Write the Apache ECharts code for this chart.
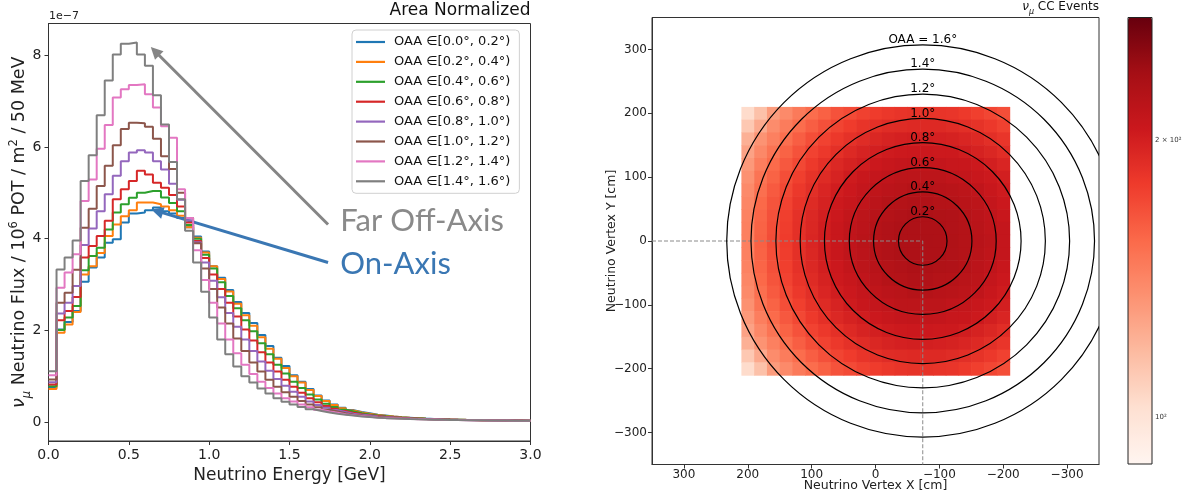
<!DOCTYPE html>
<html><head><meta charset="utf-8">
<script src="https://cdn.jsdelivr.net/npm/echarts@6/dist/echarts.min.js"></script>
<style>html,body{margin:0;padding:0;background:#fff}#c{width:1182px;height:493px}</style>
</head><body><div id="c"></div>
<script>
// ---------------- Left panel data: nu_mu flux (x1e-7) per 50 MeV bin, 0-3 GeV ----------------
const BIN_GEV = 0.05;
const oaaLabels = ['OAA \u2208[0.0°, 0.2°)','OAA \u2208[0.2°, 0.4°)','OAA \u2208[0.4°, 0.6°)','OAA \u2208[0.6°, 0.8°)',
                   'OAA \u2208[0.8°, 1.0°)','OAA \u2208[1.0°, 1.2°)','OAA \u2208[1.2°, 1.4°)','OAA \u2208[1.4°, 1.6°)'];
const oaaColors = ['#1f77b4','#ff7f0e','#2ca02c','#d62728','#9467bd','#8c564b','#e377c2','#7f7f7f'];
const flux00_02 = [0.76,2.02,2.18,2.42,3.06,3.37,3.59,3.91,3.99,4.35,4.55,4.57,4.62,4.68,4.60,4.55,4.45,4.25,4.05,3.72,3.40,3.15,2.88,2.62,2.38,2.16,1.90,1.66,1.40,1.22,1.02,0.88,0.72,0.58,0.47,0.38,0.31,0.26,0.22,0.19,0.16,0.14,0.12,0.105,0.095,0.085,0.075,0.068,0.062,0.056,0.052,0.048,0.045,0.042,0.040,0.038,0.036,0.034,0.032,0.030];
const flux02_04 = [0.72,1.95,2.13,2.40,3.22,3.40,3.69,4.06,4.31,4.49,4.62,4.79,4.79,4.75,4.70,4.62,4.50,4.25,4.02,3.70,3.40,3.12,2.85,2.58,2.33,2.10,1.85,1.60,1.38,1.18,1.00,0.86,0.70,0.57,0.46,0.37,0.30,0.25,0.21,0.18,0.155,0.135,0.118,0.104,0.093,0.083,0.074,0.067,0.061,0.056,0.051,0.047,0.044,0.041,0.039,0.037,0.035,0.033,0.031,0.030];
const flux04_06 = [0.78,2.01,2.28,2.53,3.31,3.62,3.80,4.20,4.57,4.75,4.89,5.00,5.04,5.04,4.90,4.78,4.60,4.30,4.00,3.65,3.35,3.05,2.75,2.48,2.22,1.98,1.72,1.48,1.25,1.06,0.88,0.74,0.60,0.49,0.40,0.33,0.27,0.23,0.19,0.165,0.145,0.127,0.112,0.100,0.090,0.080,0.072,0.065,0.059,0.054,0.050,0.046,0.043,0.040,0.038,0.036,0.034,0.032,0.031,0.030];
const flux06_08 = [0.82,2.22,2.42,2.73,3.59,3.84,4.06,4.39,4.86,5.08,5.26,5.48,5.40,5.22,5.11,4.95,4.70,4.35,3.95,3.58,3.22,2.90,2.60,2.30,2.02,1.78,1.52,1.30,1.10,0.92,0.77,0.64,0.52,0.43,0.35,0.29,0.24,0.20,0.17,0.15,0.13,0.115,0.102,0.092,0.083,0.075,0.068,0.062,0.057,0.052,0.048,0.045,0.042,0.040,0.038,0.036,0.034,0.032,0.031,0.030];
const flux08_10 = [0.87,2.37,2.60,2.97,3.86,4.22,4.60,4.97,5.37,5.69,5.88,5.93,5.88,5.69,5.51,5.20,4.85,4.40,3.92,3.48,3.08,2.72,2.38,2.08,1.80,1.55,1.32,1.12,0.94,0.79,0.66,0.55,0.45,0.37,0.31,0.26,0.22,0.18,0.16,0.14,0.12,0.108,0.097,0.087,0.079,0.072,0.066,0.060,0.055,0.051,0.047,0.044,0.041,0.039,0.037,0.035,0.033,0.032,0.030,0.029];
const flux10_12 = [0.93,2.60,2.82,3.32,4.24,4.65,5.15,5.59,6.04,6.39,6.53,6.52,6.44,6.18,5.80,5.52,5.00,4.45,3.90,3.35,2.90,2.50,2.15,1.82,1.55,1.30,1.10,0.92,0.77,0.65,0.55,0.46,0.38,0.32,0.27,0.23,0.19,0.16,0.14,0.12,0.11,0.098,0.088,0.080,0.073,0.066,0.061,0.056,0.052,0.048,0.045,0.042,0.040,0.038,0.036,0.034,0.032,0.031,0.030,0.029];
const flux12_14 = [1.02,2.93,3.26,3.66,4.82,5.29,5.96,6.48,7.08,7.26,7.35,7.37,7.15,6.86,6.45,6.20,5.08,4.45,3.75,3.10,2.60,2.15,1.80,1.50,1.25,1.05,0.88,0.74,0.62,0.52,0.45,0.38,0.32,0.27,0.23,0.20,0.17,0.15,0.13,0.115,0.10,0.090,0.082,0.075,0.069,0.063,0.058,0.054,0.050,0.046,0.043,0.041,0.039,0.037,0.035,0.033,0.032,0.030,0.029,0.028];
const flux14_16 = [1.11,3.33,3.59,3.96,5.26,5.82,6.69,7.45,8.02,8.25,8.28,8.02,7.77,7.13,6.49,5.67,4.86,4.17,3.48,2.84,2.28,1.80,1.48,1.21,1.00,0.86,0.73,0.62,0.52,0.44,0.38,0.33,0.28,0.24,0.21,0.18,0.16,0.14,0.12,0.11,0.095,0.085,0.077,0.070,0.064,0.059,0.055,0.051,0.048,0.045,0.042,0.040,0.038,0.036,0.034,0.032,0.031,0.030,0.029,0.028];
const fluxSeries = [flux00_02,flux02_04,flux04_06,flux06_08,flux08_10,flux10_12,flux12_14,flux14_16];
const fluxTicks = [0,2,4,6,8];
const energyTicksStep = 0.5;
// annotation arrows (data coords: [GeV, 1e-7 units])
const farArrow = [[1.74,4.31],[0.663,8.09]];
const onArrow  = [[1.74,3.48],[0.676,4.60]];
const farText = [1.816,4.38];
const onText  = [1.816,3.44];

// ---------------- Right panel data: vertex distribution ----------------
const xCenters = [200,180,160,140,120,100,80,60,40,20,0,-20,-40,-60,-80,-100,-120,-140,-160,-180,-200];
const yCenters = [200,180,160,140,120,100,80,60,40,20,0,-20,-40,-60,-80,-100,-120,-140,-160,-180,-200];
const CELL_CM = 20;
const heatCounts = [
 [104,115,131,139,147,154,160,167,171,176,179,182,184,185,185,184,183,180,177,173,169],
 [112,125,138,146,154,161,168,174,179,184,187,190,191,192,192,192,190,188,185,181,176],
 [122,135,144,153,161,169,175,181,186,190,194,197,199,200,200,199,198,195,192,188,183],
 [128,140,150,159,167,175,181,187,192,197,200,203,205,206,206,205,205,202,198,194,189],
 [132,145,155,164,172,180,187,193,198,202,206,209,211,212,212,211,209,208,205,200,195],
 [136,150,159,169,177,185,191,197,203,208,211,214,217,217,217,217,214,212,208,205,200],
 [139,153,163,172,181,188,195,202,206,211,215,218,220,223,223,221,220,217,214,208,203],
 [141,156,166,175,184,191,198,205,209,214,218,223,224,226,226,224,223,220,217,211,206],
 [143,158,168,177,186,193,200,206,212,217,221,224,226,229,229,227,226,223,218,214,208],
 [144,159,169,178,187,194,202,208,214,218,223,226,229,229,229,229,226,224,220,215,211],
 [144,160,170,179,187,195,202,208,214,220,223,226,229,229,230,229,227,224,221,217,211],
 [144,159,169,178,187,194,202,208,214,218,223,226,229,229,229,229,226,224,220,215,211],
 [143,158,168,177,186,193,200,206,212,217,221,224,226,229,229,227,226,223,218,214,208],
 [141,156,166,175,184,191,198,205,209,214,218,223,224,226,226,224,223,220,217,211,206],
 [139,153,163,172,181,188,195,202,206,211,215,218,220,223,223,221,220,217,214,208,203],
 [136,150,159,169,177,185,191,197,203,208,211,214,217,217,217,217,214,212,208,205,200],
 [132,145,155,164,172,180,187,193,198,202,206,209,211,212,212,211,209,208,205,200,195],
 [128,140,150,159,167,175,181,187,192,197,200,203,205,206,206,205,205,202,198,194,189],
 [122,135,144,153,161,169,175,181,186,190,194,197,199,200,200,199,198,195,192,188,183],
 [112,125,138,146,154,161,168,174,179,184,187,190,191,192,192,192,190,188,185,181,176],
 [104,115,131,139,147,154,160,167,171,176,179,182,184,185,185,184,183,180,177,173,169]
];
const beamCenter = [-74, 0];
const circleOAA = [0.2,0.4,0.6,0.8,1.0,1.2,1.4,1.6];
const circleRadiusCm = [38,77,115,154,192,230,269,307];
const circleLabels = ['0.2°','0.4°','0.6°','0.8°','1.0°','1.2°','1.4°','OAA = 1.6°'];
const vertexTicks = [-300,-200,-100,0,100,200,300];
const colorbarMin = 89, colorbarMax = 272;
const colorbarLabelTicks = [100,200];
const colorbarTicks = [90,100,200];
const redsScale = ['#fff5f0','#fee0d2','#fcbba1','#fc9272','#fb6a4a','#ef3b2c','#cb181d','#a50f15','#67000d'];

// ---------------- build ----------------
const FONT = 'DejaVu Sans';
const chart = echarts.init(document.getElementById('c'));
const minus = v => (v < 0 ? '\u2212' + Math.abs(v) : String(v));

const fluxLineSeries = fluxSeries.map((vals, i) => {
  const pts = vals.map((v, k) => [+(k * BIN_GEV).toFixed(3), v]);
  pts.push([+(vals.length * BIN_GEV).toFixed(3), vals[vals.length - 1]]);
  const s = {
    name: oaaLabels[i], type: 'line', step: 'end', xAxisIndex: 0, yAxisIndex: 0,
    data: pts, symbol: 'none', showSymbol: false, color: oaaColors[i],
    lineStyle: {width: 2, color: oaaColors[i]}, z: 2 + i, silent: true
  };
  if (i === 0 || i === 7) {
    const a = i === 7 ? farArrow : onArrow;
    const col = i === 7 ? '#858585' : '#3a77b3';
    s.markLine = {
      silent: true, symbol: ['none', 'triangle'], symbolSize: 12,
      label: {show: false},
      itemStyle: {color: col},
      lineStyle: {color: col, width: 3, type: 'solid'},
      data: [[{coord: a[0]}, {coord: a[1]}]]
    };
  }
  return s;
});

const heatData = [];
heatCounts.forEach((row, i) => row.forEach((c, j) => heatData.push([xCenters[j], yCenters[i], Math.log10(c)])));

const option = {
  animation: false,
  textStyle: {fontFamily: FONT},
  grid: [
    {left: 48.5, top: 23.5, width: 482, height: 417.5, show: true, borderColor: '#333', borderWidth: 1, containLabel: false, outerBoundsMode: 'none'},
    {left: 652, top: 17.5, width: 447, height: 447, show: true, borderColor: '#333', borderWidth: 1, containLabel: false, outerBoundsMode: 'none'},
    {left: 1128, top: 17.5, width: 24, height: 446.5, show: true, borderColor: '#222', borderWidth: 1, z: 10, backgroundColor: 'transparent', containLabel: false, outerBoundsMode: 'none'}
  ],
  legend: {
    data: oaaLabels, orient: 'vertical', left: 352, top: 30,
    icon: 'rect', itemWidth: 29, itemHeight: 2.2, itemGap: 5.9,
    backgroundColor: 'rgba(255,255,255,0.85)', borderColor: '#d0d0d0', borderWidth: 1, borderRadius: 4,
    padding: [5, 9, 5, 4],
    textStyle: {fontSize: 13, fontFamily: FONT, color: '#111', lineHeight: 14, padding: [0, 0, 0, 4]},
    selectedMode: false
  },
  visualMap: [{
    type: 'continuous', seriesIndex: 8, dimension: 2,
    min: Math.log10(colorbarMin), max: Math.log10(colorbarMax),
    inRange: {color: redsScale}, orient: 'vertical',
    left: 1128, top: 17.5, itemWidth: 24, itemHeight: 446.5, padding: 0,
    calculable: false, text: null, showLabel: false, hoverLink: false
  }],
  xAxis: [
    {gridIndex: 0, type: 'value', min: 0, max: 3, interval: energyTicksStep,
     axisLine: {show: true, onZero: false, lineStyle: {color: '#333'}}, axisTick: {show: true, length: 4, lineStyle: {color: '#333'}},
     axisLabel: {formatter: v => v.toFixed(1), fontSize: 14, color: '#222', margin: 7, fontFamily: FONT},
     splitLine: {show: false},
     name: 'Neutrino Energy [GeV]', nameLocation: 'middle', nameGap: 24,
     nameTextStyle: {fontSize: 17, color: '#222', fontFamily: FONT}},
    {gridIndex: 1, type: 'value', min: -350, max: 350, inverse: true,
     axisLine: {show: true, onZero: false, lineStyle: {color: '#333'}},
     axisTick: {show: true, length: 4, customValues: vertexTicks, lineStyle: {color: '#333'}},
     axisLabel: {customValues: vertexTicks, formatter: minus, fontSize: 12, color: '#222', margin: 4, fontFamily: FONT},
     splitLine: {show: false},
     name: 'Neutrino Vertex X [cm]', nameLocation: 'middle', nameGap: 14.5, nameMoveOverlap: false,
     nameTextStyle: {fontSize: 12.5, color: '#222', fontFamily: FONT}},
    {gridIndex: 2, type: 'value', show: false, min: 0, max: 1}
  ],
  yAxis: [
    {gridIndex: 0, type: 'value', min: -0.414, max: 8.694,
     axisLine: {show: true, onZero: false, lineStyle: {color: '#333'}},
     axisTick: {show: true, length: 4, customValues: fluxTicks, lineStyle: {color: '#333'}},
     axisLabel: {customValues: fluxTicks, fontSize: 14, color: '#222', margin: 7, fontFamily: FONT},
     splitLine: {show: false}},
    {gridIndex: 1, type: 'value', min: -350, max: 350,
     axisLine: {show: true, onZero: false, lineStyle: {color: '#333'}},
     axisTick: {show: true, length: 4, customValues: vertexTicks, lineStyle: {color: '#333'}},
     axisLabel: {customValues: vertexTicks, formatter: minus, fontSize: 12, color: '#222', margin: 5, fontFamily: FONT},
     splitLine: {show: false},
     name: 'Neutrino Vertex Y [cm]', nameLocation: 'middle', nameRotate: 90, nameGap: 34, nameMoveOverlap: false,
     nameTextStyle: {fontSize: 12.5, color: '#222', fontFamily: FONT}},
    {gridIndex: 2, type: 'log', logBase: 10, min: colorbarMin, max: colorbarMax, position: 'right',
     axisLine: {show: false},
     axisTick: {show: true, length: 2.5, customValues: colorbarTicks, lineStyle: {color: '#333'}},
     axisLabel: {customValues: colorbarLabelTicks, formatter: v => (Math.round(v) === 100 ? '10\u00b2' : '2 \u00d7 10\u00b2'),
                 fontSize: 7, color: '#333', margin: 3, fontFamily: FONT},
     splitLine: {show: false}}
  ],
  series: fluxLineSeries.concat([
    {
      type: 'custom', name: 'vertices', xAxisIndex: 1, yAxisIndex: 1, data: heatData, z: 1, silent: true,
      encode: {x: 0, y: 1},
      renderItem: function (params, api) {
        const x = api.value(0), y = api.value(1);
        const p1 = api.coord([x + CELL_CM / 2, y + CELL_CM / 2]);
        const p2 = api.coord([x - CELL_CM / 2, y - CELL_CM / 2]);
        return {type: 'rect', shape: {x: Math.min(p1[0], p2[0]), y: Math.min(p1[1], p2[1]),
                  width: Math.abs(p2[0] - p1[0]) + 0.6, height: Math.abs(p2[1] - p1[1]) + 0.6},
                style: {fill: api.visual('color')}};
      }
    },
    {
      type: 'line', xAxisIndex: 1, yAxisIndex: 1, z: 3, silent: true, symbol: 'none',
      data: [[350, beamCenter[1]], beamCenter, [beamCenter[0], -350]],
      lineStyle: {color: '#8a8a8a', width: 1, type: [4, 2]}
    },
    {
      type: 'custom', xAxisIndex: 1, yAxisIndex: 1, z: 4, silent: true,
      data: circleOAA.map((d, i) => [beamCenter[0], beamCenter[1], circleRadiusCm[i]]),
      encode: {x: 0, y: 1},
      renderItem: function (params, api) {
        const c = api.coord([api.value(0), api.value(1)]);
        const s = api.size([api.value(2), api.value(2)]);
        const r = (s[0] + s[1]) / 2;
        const cs = params.coordSys;
        return {type: 'group', children: [
          {type: 'circle', shape: {cx: c[0], cy: c[1], r: r},
           style: {fill: 'none', stroke: '#000', lineWidth: 1.2},
           clipPath: {type: 'rect', shape: {x: cs.x, y: cs.y, width: cs.width, height: cs.height}}},
          {type: 'text', x: c[0], y: c[1] - s[1] + 1,
           style: {text: circleLabels[params.dataIndex], fill: '#000', fontSize: 12, fontFamily: FONT,
                   align: 'center', verticalAlign: 'bottom'}}
        ]};
      }
    }
  ])
};
chart.setOption(option);

const pFar = chart.convertToPixel({gridIndex: 0}, farText);
const pOn = chart.convertToPixel({gridIndex: 0}, onText);
const yMid = chart.convertToPixel({gridIndex: 0}, [0, (-0.414 + 8.694) / 2])[1];
chart.setOption({
  graphic: [
    {type: 'text', right: 1182 - 530.5, top: 2,
     style: {text: 'Area Normalized', fontSize: 17, fontFamily: FONT, fill: '#111'}},
    {type: 'text', left: 49, top: 11,
     style: {text: '1e\u22127', fontSize: 11, fontFamily: FONT, fill: '#222'}},
    {type: 'text', x: pFar[0], y: pFar[1],
     style: {text: 'Far Off-Axis', fontSize: 31, fontFamily: 'Lato', fill: '#8a8a8a', align: 'left', verticalAlign: 'middle'}},
    {type: 'text', x: pOn[0], y: pOn[1],
     style: {text: 'On-Axis', fontSize: 31, fontFamily: 'Lato', fill: '#3a77b3', align: 'left', verticalAlign: 'middle'}},
    {type: 'text', x: 19, y: yMid, rotation: Math.PI / 2,
     style: {text: '{i|\u03bd}{s|\u03bc}{a| Neutrino Flux / 10}{p|6}{a| POT / m}{p|2}{a| / 50 MeV}',
       align: 'center', verticalAlign: 'middle', fill: '#222',
       rich: {
         a: {fontSize: 17.5, fontFamily: FONT, fill: '#222'},
         i: {fontSize: 17.5, fontFamily: FONT, fill: '#222', fontStyle: 'italic'},
         s: {fontSize: 11.5, fontFamily: FONT, fill: '#222', fontStyle: 'italic', verticalAlign: 'bottom', padding: [0, 0, -5, 0]},
         p: {fontSize: 11.5, fontFamily: FONT, fill: '#222', verticalAlign: 'top', padding: [-2, 0, 0, 0]}
       }}},
    {type: 'text', right: 1182 - 1099, top: 1,
     style: {text: '{i|\u03bd}{s|\u03bc}{a| CC Events}', fill: '#111',
       rich: {
         a: {fontSize: 12, fontFamily: FONT, fill: '#111'},
         i: {fontSize: 12, fontFamily: FONT, fontStyle: 'italic', fill: '#111'},
         s: {fontSize: 8, fontFamily: FONT, fontStyle: 'italic', fill: '#111', verticalAlign: 'bottom', padding: [0, 0, -3, 0]}
       }}}
  ]
});
</script></body></html>
